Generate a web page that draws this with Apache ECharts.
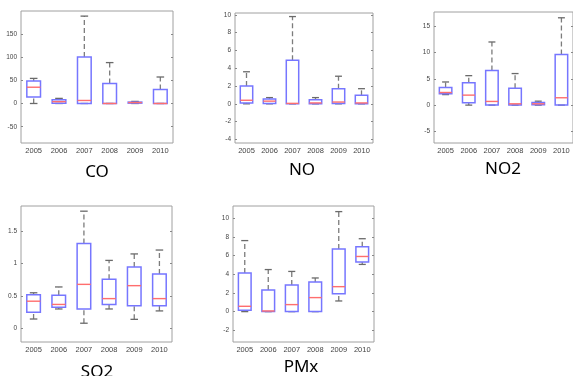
<!DOCTYPE html>
<html>
<head>
<meta charset="utf-8">
<script src="https://cdn.jsdelivr.net/npm/echarts@6/dist/echarts.min.js"></script>
<style>
  html, body { margin: 0; padding: 0; background: #fff; }
  #chart { width: 573px; height: 376px; }
</style>
</head>
<body>
<div id="chart"></div>
<script>
const years = ['2005', '2006', '2007', '2008', '2009', '2010'];

// per year: [min, q1, median, q3, max]
const coStats = [
  [0, 14, 35, 48.5, 54],
  [0, 0.5, 4, 8, 11],
  [0, 0, 6.5, 100, 188],
  [0, 0, 0, 43, 88],
  [0, 0.8, 2, 3, 4.5],
  [0, 0, 0, 30, 57],
];
const noStats = [
  [0, 0.1, 0.4, 2.0, 3.6],
  [0, 0.05, 0.3, 0.55, 0.7],
  [0, 0, 0.05, 4.9, 9.8],
  [0, 0, 0.1, 0.45, 0.7],
  [0, 0.05, 0.2, 1.7, 3.1],
  [0, 0, 0.1, 0.95, 1.7],
];
const no2Stats = [
  [2.0, 2.15, 2.4, 3.35, 4.4],
  [0, 0.45, 1.9, 4.25, 5.6],
  [0, 0, 0.7, 6.6, 12.0],
  [0, 0, 0.25, 3.2, 6.0],
  [0, 0.05, 0.25, 0.5, 0.75],
  [0, 0, 1.4, 9.6, 16.6],
];
const so2Stats = [
  [0.145, 0.25, 0.42, 0.52, 0.55],
  [0.3, 0.325, 0.37, 0.51, 0.64],
  [0.08, 0.3, 0.68, 1.31, 1.81],
  [0.3, 0.37, 0.46, 0.76, 1.05],
  [0.14, 0.35, 0.66, 0.95, 1.15],
  [0.27, 0.35, 0.46, 0.84, 1.21],
];
const pmxStats = [
  [0, 0.14, 0.57, 4.13, 7.6],
  [0, 0, 0.07, 2.3, 4.5],
  [0, 0, 0.75, 2.85, 4.3],
  [0, 0, 1.5, 3.17, 3.6],
  [1.14, 1.9, 2.67, 6.7, 10.7],
  [5.05, 5.3, 5.9, 6.94, 7.8],
];

// y tick labels for each panel
const coTicks = [-50, 0, 50, 100, 150];
const noTicks = [-4, -2, 0, 2, 4, 6, 8, 10];
const no2Ticks = [-5, 0, 5, 10, 15];
const so2Ticks = [0, 0.5, 1, 1.5];
const pmxTicks = [-2, 0, 2, 4, 6, 8, 10];

const panels = [
  { name: 'CO', stats: coStats, ticks: coTicks, min: -85, max: 199,
    grid: { left: 21, top: 11, width: 152, height: 132 }, title: [97, 172] },
  { name: 'NO', stats: noStats, ticks: noTicks, min: -4.4, max: 10.2,
    grid: { left: 235, top: 13, width: 138, height: 130 }, title: [302, 170] },
  { name: 'NO2', stats: no2Stats, ticks: no2Ticks, min: -7.2, max: 17.7,
    grid: { left: 434, top: 12, width: 141, height: 131 }, title: [503, 169] },
  { name: 'SO2', stats: so2Stats, ticks: so2Ticks, min: -0.21, max: 1.89,
    grid: { left: 21, top: 206, width: 151, height: 136 }, title: [97, 372] },
  { name: 'PMx', stats: pmxStats, ticks: pmxTicks, min: -3.25, max: 11.3,
    grid: { left: 233, top: 206, width: 141, height: 136 }, title: [301, 367] },
];

function renderBox(params, api) {
  const x = api.value(0);
  const band = api.size([1, 0])[0];
  const bw = band * 0.27;
  const cw = band * 0.15;
  const p = (k) => api.coord([x, api.value(k)]);
  const lo = p(1), q1 = p(2), md = p(3), q3 = p(4), hi = p(5);
  const cx = lo[0];
  const whisk = { stroke: '#7c7c7c', lineWidth: 1.3, lineDash: [5, 3] };
  const cap = { stroke: '#6a6a6a', lineWidth: 1.3 };
  return {
    type: 'group',
    children: [
      { type: 'line', shape: { x1: cx, y1: q3[1], x2: cx, y2: hi[1] }, style: whisk },
      { type: 'line', shape: { x1: cx, y1: lo[1], x2: cx, y2: q1[1] }, style: whisk },
      { type: 'line', shape: { x1: cx - cw, y1: hi[1], x2: cx + cw, y2: hi[1] }, style: cap },
      { type: 'line', shape: { x1: cx - cw, y1: lo[1], x2: cx + cw, y2: lo[1] }, style: cap },
      {
        type: 'rect',
        shape: { x: cx - bw, y: q3[1], width: 2 * bw, height: q1[1] - q3[1] },
        style: { fill: 'none', stroke: '#7676ff', lineWidth: 1.5 },
      },
      {
        type: 'line',
        shape: { x1: cx - bw, y1: md[1], x2: cx + bw, y2: md[1] },
        style: { stroke: '#ff6e6e', lineWidth: 1.4 },
      },
    ],
  };
}

const chart = echarts.init(document.getElementById('chart'), null, { renderer: 'canvas' });

const yAxisFor = (p, i, side) => ({
  type: 'value',
  gridIndex: i,
  position: side,
  min: p.min,
  max: p.max,
  axisLine: { show: false },
  splitLine: { show: false },
  axisTick: {
    show: true,
    inside: true,
    length: 2,
    customValues: p.ticks,
    lineStyle: { color: '#888' },
  },
  axisLabel: {
    show: side === 'left',
    customValues: p.ticks,
    fontSize: 6.5,
    color: '#444',
    margin: 4,
    fontFamily: 'Liberation Sans',
  },
});

const option = {
  animation: false,
  backgroundColor: '#fff',
  grid: panels.map((p) => ({
    ...p.grid,
    show: true,
    borderColor: '#a0a0a0',
    borderWidth: 1,
  })),
  xAxis: panels.map((p, i) => ({
    type: 'category',
    gridIndex: i,
    data: years,
    axisLine: { show: false },
    axisTick: { show: false },
    axisLabel: {
      interval: 0,
      fontSize: 7.5,
      color: '#444',
      margin: 4,
      fontFamily: 'Liberation Sans',
    },
  })),
  yAxis: panels.flatMap((p, i) => [yAxisFor(p, i, 'left'), yAxisFor(p, i, 'right')]),
  series: panels.map((p, i) => ({
    type: 'custom',
    name: p.name,
    xAxisIndex: i,
    yAxisIndex: 2 * i,
    renderItem: renderBox,
    data: p.stats.map((s, k) => [k, ...s]),
  })),
  graphic: panels.map((p) => ({
    type: 'text',
    x: p.title[0],
    y: p.title[1],
    style: {
      text: p.name,
      align: 'center',
      verticalAlign: 'middle',
      fontSize: 17,
      fontFamily: 'Noto Sans',
      fill: '#000',
    },
  })),
};

chart.setOption(option);
</script>
</body>
</html>
